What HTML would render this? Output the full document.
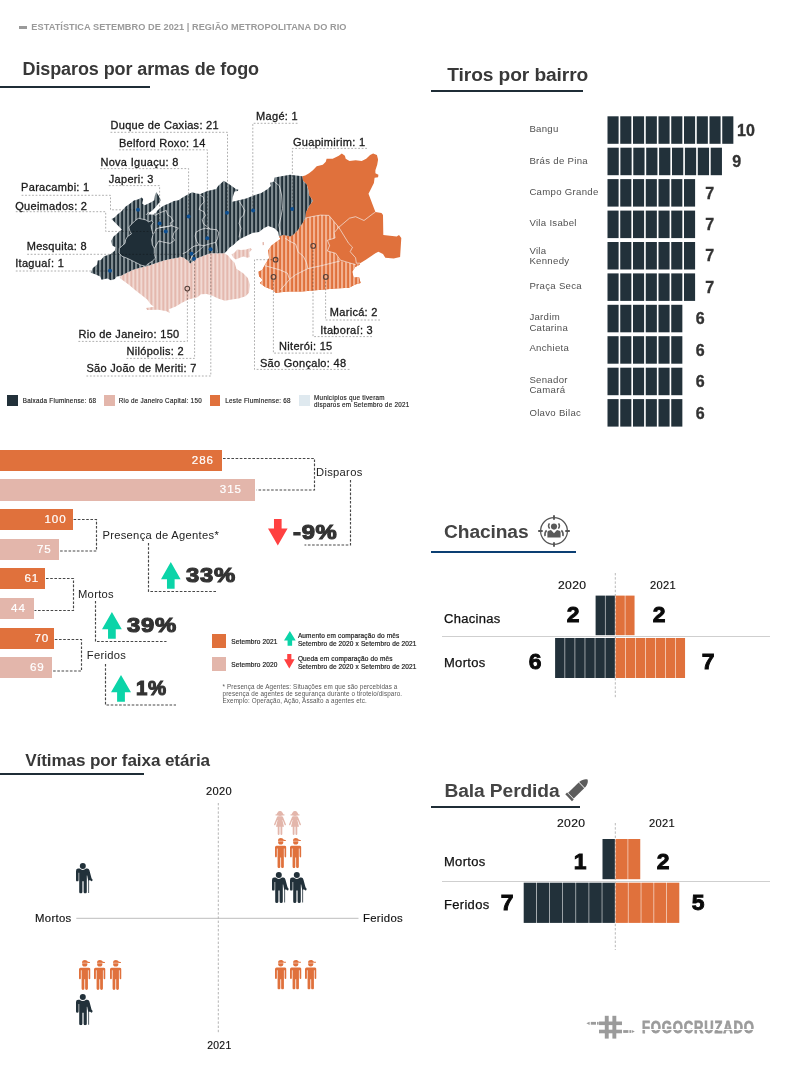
<!DOCTYPE html>
<html lang="pt-BR">
<head>
<meta charset="utf-8">
<title>Estatística Setembro de 2021 | Região Metropolitana do Rio</title>
<style>
*{box-sizing:border-box;margin:0;padding:0}
html,body{width:787px;height:1080px;background:#fff;overflow:hidden}
body{font-family:"Liberation Sans",sans-serif;color:#222;position:relative}
.abs{position:absolute;white-space:nowrap;line-height:1}
.title{position:absolute;font-weight:bold;color:#383838;white-space:nowrap;line-height:1;letter-spacing:-.1px}
.rule{position:absolute;height:2px;background:#1f2d36}
.hdr{position:absolute;left:31.3px;top:21px;font-size:9.2px;font-weight:bold;color:#9a9a9a;white-space:nowrap;line-height:12px;letter-spacing:.05px}
.hdr i{position:absolute;left:-12px;top:5px;width:8px;height:3px;background:#9a9a9a}
.lbl{position:absolute;font-size:11px;color:#1a1a1a;white-space:nowrap;line-height:1;letter-spacing:.3px;-webkit-text-stroke:.3px #1a1a1a}
.leg{position:absolute;font-size:6.3px;color:#222;white-space:nowrap;line-height:7.2px;letter-spacing:.27px;-webkit-text-stroke:.15px #222}
.sq{position:absolute;width:10.5px;height:10.5px}
.bl{position:absolute;font-size:9.6px;color:#505050;line-height:10.8px;letter-spacing:.3px;left:529.4px}
.bn{position:absolute;font-size:16px;font-weight:bold;color:#333;-webkit-text-stroke:.35px #333;line-height:1;width:40px;text-align:center;white-space:nowrap}
.brow{position:absolute;left:607.5px;height:27.5px;display:flex}
.brow b{display:block;width:11.1px;height:100%;background:#22313a;margin-right:1.65px}
.hb{position:absolute;left:0;height:21px;color:#fff;font-size:11.6px;text-align:right;padding-right:7px;line-height:20.8px;letter-spacing:.9px;-webkit-text-stroke:.2px #fff}
.o{background:#e0713c}.p{background:#e3b6ab}.d{background:#22313a}
.cat{position:absolute;font-size:11.2px;color:#222;white-space:nowrap;line-height:1;letter-spacing:.3px}
.pct{position:absolute;font-size:20px;font-weight:bold;color:#333;white-space:nowrap;line-height:1;transform-origin:0 0;transform:scaleX(1.19);-webkit-text-stroke:1.1px #333;letter-spacing:.6px}
.yr{position:absolute;font-size:10.4px;color:#111;white-space:nowrap;line-height:1;letter-spacing:.3px;transform-origin:0 0;-webkit-text-stroke:.15px #111}
.big{position:absolute;font-size:21.8px;font-weight:bold;color:#0a0a0a;white-space:nowrap;line-height:1;-webkit-text-stroke:.9px #0a0a0a;width:30px;text-align:center;transform:scaleX(1.05)}
.rl{position:absolute;font-size:12px;color:#111;white-space:nowrap;line-height:1;letter-spacing:.3px;transform-origin:0 0;transform:scaleX(1.08);-webkit-text-stroke:.25px #111}
.blk{position:absolute;display:flex}
.blk b{display:block;height:100%}
.sep{position:absolute;height:1px;background:#cfcfcf}
.leg2{position:absolute;font-size:6.5px;color:#222;white-space:nowrap;line-height:7.6px;letter-spacing:.14px;-webkit-text-stroke:.2px #222}
.foot{position:absolute;font-size:6.3px;color:#555;white-space:nowrap;line-height:7px;letter-spacing:.13px}
.logo{position:absolute;font-size:16.8px;font-weight:bold;color:#9b9b9b;white-space:nowrap;line-height:1;transform-origin:0 0;transform:scaleX(.775);letter-spacing:1.1px;-webkit-text-stroke:.8px #9b9b9b}
svg{position:absolute;left:0;top:0;overflow:visible}
</style>
</head>
<body>
<div class="hdr"><i></i>ESTATÍSTICA SETEMBRO DE 2021 | REGIÃO METROPOLITANA DO RIO</div>
<div class="title" style="left:22.5px;top:60.2px;font-size:18px">Disparos por armas de fogo</div>
<div class="rule" style="left:0;top:86px;width:150px"></div>
<div class="title" style="left:447.3px;top:64.6px;font-size:19.2px">Tiros por bairro</div>
<div class="rule" style="left:431px;top:89.5px;width:152px"></div>
<div class="bl" style="top:124.2px">Bangu</div>
<div class="bn" style="left:725.9px;top:122.7px">10</div>
<div class="bl" style="top:155.7px">Brás de Pina</div>
<div class="bn" style="left:716.6px;top:154.1px">9</div>
<div class="bl" style="top:186.6px">Campo Grande</div>
<div class="bn" style="left:689.6px;top:185.5px">7</div>
<div class="bl" style="top:218.2px">Vila Isabel</div>
<div class="bn" style="left:689.6px;top:217.0px">7</div>
<div class="bl" style="top:245.5px">Vila<br>Kennedy</div>
<div class="bn" style="left:689.6px;top:248.4px">7</div>
<div class="bl" style="top:281.0px">Praça Seca</div>
<div class="bn" style="left:689.6px;top:279.8px">7</div>
<div class="bl" style="top:312.3px">Jardim<br>Catarina</div>
<div class="bn" style="left:680.1px;top:311.2px">6</div>
<div class="bl" style="top:342.9px">Anchieta</div>
<div class="bn" style="left:680.1px;top:342.6px">6</div>
<div class="bl" style="top:374.7px">Senador<br>Camará</div>
<div class="bn" style="left:680.1px;top:374.1px">6</div>
<div class="bl" style="top:408.0px">Olavo Bilac</div>
<div class="bn" style="left:680.1px;top:405.5px">6</div>
<svg width="787" height="1080" viewBox="0 0 787 1080" fill="#22313a"><rect x="607.50" y="116.3" width="11.1" height="27.5"/><rect x="620.25" y="116.3" width="11.1" height="27.5"/><rect x="633.00" y="116.3" width="11.1" height="27.5"/><rect x="645.75" y="116.3" width="11.1" height="27.5"/><rect x="658.50" y="116.3" width="11.1" height="27.5"/><rect x="671.25" y="116.3" width="11.1" height="27.5"/><rect x="684.00" y="116.3" width="11.1" height="27.5"/><rect x="696.75" y="116.3" width="11.1" height="27.5"/><rect x="709.50" y="116.3" width="11.1" height="27.5"/><rect x="722.25" y="116.3" width="11.1" height="27.5"/><rect x="607.50" y="147.7" width="11.25" height="27.5"/><rect x="620.40" y="147.7" width="11.25" height="27.5"/><rect x="633.30" y="147.7" width="11.25" height="27.5"/><rect x="646.20" y="147.7" width="11.25" height="27.5"/><rect x="659.10" y="147.7" width="11.25" height="27.5"/><rect x="672.00" y="147.7" width="11.25" height="27.5"/><rect x="684.90" y="147.7" width="11.25" height="27.5"/><rect x="697.80" y="147.7" width="11.25" height="27.5"/><rect x="710.70" y="147.7" width="11.25" height="27.5"/><rect x="607.50" y="179.1" width="11.1" height="27.5"/><rect x="620.25" y="179.1" width="11.1" height="27.5"/><rect x="633.00" y="179.1" width="11.1" height="27.5"/><rect x="645.75" y="179.1" width="11.1" height="27.5"/><rect x="658.50" y="179.1" width="11.1" height="27.5"/><rect x="671.25" y="179.1" width="11.1" height="27.5"/><rect x="684.00" y="179.1" width="11.1" height="27.5"/><rect x="607.50" y="210.6" width="11.1" height="27.5"/><rect x="620.25" y="210.6" width="11.1" height="27.5"/><rect x="633.00" y="210.6" width="11.1" height="27.5"/><rect x="645.75" y="210.6" width="11.1" height="27.5"/><rect x="658.50" y="210.6" width="11.1" height="27.5"/><rect x="671.25" y="210.6" width="11.1" height="27.5"/><rect x="684.00" y="210.6" width="11.1" height="27.5"/><rect x="607.50" y="242.0" width="11.1" height="27.5"/><rect x="620.25" y="242.0" width="11.1" height="27.5"/><rect x="633.00" y="242.0" width="11.1" height="27.5"/><rect x="645.75" y="242.0" width="11.1" height="27.5"/><rect x="658.50" y="242.0" width="11.1" height="27.5"/><rect x="671.25" y="242.0" width="11.1" height="27.5"/><rect x="684.00" y="242.0" width="11.1" height="27.5"/><rect x="607.50" y="273.4" width="11.1" height="27.5"/><rect x="620.25" y="273.4" width="11.1" height="27.5"/><rect x="633.00" y="273.4" width="11.1" height="27.5"/><rect x="645.75" y="273.4" width="11.1" height="27.5"/><rect x="658.50" y="273.4" width="11.1" height="27.5"/><rect x="671.25" y="273.4" width="11.1" height="27.5"/><rect x="684.00" y="273.4" width="11.1" height="27.5"/><rect x="607.50" y="304.8" width="11.1" height="27.5"/><rect x="620.25" y="304.8" width="11.1" height="27.5"/><rect x="633.00" y="304.8" width="11.1" height="27.5"/><rect x="645.75" y="304.8" width="11.1" height="27.5"/><rect x="658.50" y="304.8" width="11.1" height="27.5"/><rect x="671.25" y="304.8" width="11.1" height="27.5"/><rect x="607.50" y="336.2" width="11.1" height="27.5"/><rect x="620.25" y="336.2" width="11.1" height="27.5"/><rect x="633.00" y="336.2" width="11.1" height="27.5"/><rect x="645.75" y="336.2" width="11.1" height="27.5"/><rect x="658.50" y="336.2" width="11.1" height="27.5"/><rect x="671.25" y="336.2" width="11.1" height="27.5"/><rect x="607.50" y="367.7" width="11.1" height="27.5"/><rect x="620.25" y="367.7" width="11.1" height="27.5"/><rect x="633.00" y="367.7" width="11.1" height="27.5"/><rect x="645.75" y="367.7" width="11.1" height="27.5"/><rect x="658.50" y="367.7" width="11.1" height="27.5"/><rect x="671.25" y="367.7" width="11.1" height="27.5"/><rect x="607.50" y="399.1" width="11.1" height="27.5"/><rect x="620.25" y="399.1" width="11.1" height="27.5"/><rect x="633.00" y="399.1" width="11.1" height="27.5"/><rect x="645.75" y="399.1" width="11.1" height="27.5"/><rect x="658.50" y="399.1" width="11.1" height="27.5"/><rect x="671.25" y="399.1" width="11.1" height="27.5"/></svg>
<svg width="787" height="1080" viewBox="0 0 787 1080">
<defs>
<pattern id="sd" width="4" height="8" patternUnits="userSpaceOnUse" x="-1"><rect width="4" height="8" fill="#1f2e37"/><rect width="2.15" height="8" fill="#7f8b90"/></pattern>
<pattern id="so" width="4" height="8" patternUnits="userSpaceOnUse" x="1"><rect width="4" height="8" fill="#e0713c"/><rect width="2.1" height="8" fill="#f2b08f"/></pattern>
<pattern id="sp" width="4" height="8" patternUnits="userSpaceOnUse" x="2.4"><rect width="4" height="8" fill="#f1d9d3"/><rect width="1.8" height="8" fill="#e2b4a9"/></pattern>
</defs>
<polygon points="120.6,275.9 126.9,272.7 133.9,269.5 140.9,267.6 148.5,265.7 156.2,263.1 163.8,260.6 171.4,258.7 179.0,257.4 180.0,256.4 183.8,257.7 188.3,260.9 190.2,263.4 192.7,261.5 195.2,258.9 200.3,257.0 205.4,255.1 210.5,253.2 218.1,253.2 224.5,253.2 228.3,255.8 230.8,258.9 234.6,262.8 236.4,268.7 243.2,273.3 247.8,277.9 250.1,284.7 249.0,292.7 245.5,296.2 238.7,298.5 231.8,299.6 224.9,300.7 218.1,298.5 212.4,295.7 206.7,293.9 200.9,294.3 197.5,297.3 188.4,299.6 181.5,303.0 175.8,306.5 168.9,309.2 170.1,313.3 166.6,311.3 158.6,309.7 147.2,310.1 146.0,308.1 154.0,306.7 150.6,304.2 147.2,299.6 141.5,295.0 135.7,290.5 128.9,284.7 119.7,277.9 120.9,275.1" fill="url(#sp)"/>
<polygon points="231.5,254.5 234.6,252.6 237.2,249.4 241.0,250.1 246.1,249.4 250.5,248.1 251.8,249.4 249.3,252.6 249.9,257.0 247.3,257.7 243.5,256.4 239.7,257.7 235.9,259.6 233.4,257.7" fill="url(#sp)"/>
<polygon points="262.3,242.2 263.9,241.9 264.1,245.0 262.6,245.2" fill="url(#sp)"/>
<polygon points="302.2,176.3 305.2,175.5 309.1,173.2 312.9,170.2 316.7,166.3 322.8,164.8 325.8,161.8 326.6,158.7 332.7,158.7 338.8,155.7 341.8,153.4 344.9,155.7 345.7,158.7 349.5,161.0 355.6,160.2 361.7,161.0 366.2,158.7 370.1,154.9 373.1,153.4 376.9,154.9 378.1,159.5 377.2,164.8 375.4,170.2 375.4,173.2 378.4,174.7 378.1,177.3 374.6,177.8 373.9,183.1 370.8,189.2 368.5,193.8 375.4,212.1 381.5,212.9 383.0,215.1 383.3,235.0 396.7,236.5 399.0,235.0 401.3,238.0 400.1,257.1 393.7,258.6 385.3,257.8 383.0,254.0 378.4,251.7 375.4,253.3 366.2,259.4 360.1,263.2 359.8,264.8 355.2,267.1 352.2,271.7 353.7,277.8 359.0,277.0 360.6,283.1 355.2,284.6 349.1,287.7 335.4,288.4 318.6,290.0 301.8,291.5 288.1,291.5 280.5,292.3 275.9,293.0 272.9,290.0 265.2,286.9 259.9,283.1 263.0,280.1 259.1,276.2 258.4,271.7 262.2,270.1 264.5,265.6 269.1,257.9 268.3,250.3 271.3,245.7 275.2,242.7 280.5,238.9 279.0,236.6 282.8,235.1 288.1,235.8 293.0,235.0 297.6,230.4 303.7,221.2 305.2,218.2 306.0,212.1 309.1,206.0 312.9,200.7 309.1,195.3 308.3,190.0 306.8,184.6 303.0,180.8" fill="#e0713c"/>
<polygon points="305.2,218.2 311.3,216.7 320.5,215.1 328.9,215.4 338.8,227.3 334.2,232.7 335.0,238.0 327.4,240.3 329.6,245.6 327.4,251.0 335.7,253.3 340.3,260.1 335.4,253.4 340.0,261.0 347.6,262.5 355.2,264.0 359.8,264.8 355.2,267.1 352.2,271.7 353.7,277.8 359.0,277.0 360.6,283.1 355.2,284.6 349.1,287.7 335.4,288.4 318.6,290.0 301.8,291.5 288.1,291.5 280.5,292.3 275.9,293.0 272.9,290.0 265.2,286.9 259.9,283.1 263.0,280.1 259.1,276.2 258.4,271.7 262.2,270.1 264.5,265.6 269.1,257.9 268.3,250.3 271.3,245.7 275.2,242.7 280.5,238.9 279.0,236.6 282.8,235.1 288.1,235.8 293.0,235.0 297.6,230.4 303.7,221.2" fill="url(#so)"/>
<polygon points="90.7,272.7 92.6,268.2 97.1,264.4 97.7,260.6 100.9,260.0 104.1,256.2 110.4,254.3 114.9,250.4 115.5,247.3 112.3,245.4 111.0,240.9 113.6,236.5 117.4,233.3 121.8,229.5 115.5,223.1 111.4,219.1 114.5,217.4 117.4,214.5 121.8,211.0 125.7,206.6 129.5,204.1 133.9,200.5 138.4,199.2 141.5,197.5 143.2,199.0 142.2,203.4 144.7,205.3 151.1,202.2 154.3,200.2 154.9,195.8 156.2,192.0 158.7,195.8 160.9,200.2 158.1,204.1 155.5,207.2 152.3,210.4 149.8,212.3 148.2,214.5 152.3,214.5 155.5,213.2 157.4,210.4 161.2,207.2 164.4,205.3 168.9,203.4 173.9,200.9 178.4,200.2 182.2,197.7 185.1,196.0 192.1,192.2 196.5,193.5 200.3,194.1 207.3,191.0 216.2,189.1 218.1,185.9 223.8,180.8 228.9,184.0 235.9,189.1 238.4,189.7 237.8,191.0 234.6,191.6 232.7,197.3 232.1,201.8 237.8,200.5 246.1,198.6 253.7,195.4 261.3,192.9 267.7,189.1 270.9,185.9 270.2,182.7 274.0,181.4 274.7,177.6 280.0,176.4 290.0,174.7 296.1,175.5 302.2,176.3 303.0,180.8 306.8,184.6 308.3,190.0 309.1,195.3 312.9,200.7 309.1,206.0 306.0,212.1 305.2,218.2 303.7,221.2 297.6,230.4 293.0,235.0 290.0,236.5 288.1,235.8 282.8,235.1 279.0,236.6 278.2,232.0 274.4,228.2 268.3,225.9 263.7,228.2 259.1,232.0 253.0,232.8 246.1,236.1 241.0,238.6 237.2,241.2 233.4,245.0 229.6,247.5 227.0,250.7 224.5,253.2 218.1,253.2 210.5,253.2 205.4,255.1 200.3,257.0 195.2,258.9 192.7,261.5 190.2,263.4 188.3,260.9 183.8,257.7 180.0,256.4 179.0,257.4 171.4,258.7 163.8,260.6 156.2,263.1 148.5,265.7 140.9,267.6 133.9,269.5 126.9,272.7 120.6,275.9 116.8,276.5 114.9,279.0 111.0,280.3 107.2,278.4 101.5,279.7 100.2,276.5 94.5,273.9" fill="url(#sd)"/>
<polygon points="138.4,218.3 142.2,219.1 146.0,219.9 148.5,221.8 151.7,220.6 153.0,222.5 151.1,225.7 151.7,229.5 153.0,234.6 151.7,239.6 152.3,244.7 154.3,248.5 154.3,253.6 155.5,258.1 152.3,261.2 147.3,264.4 145.4,266.3 140.9,265.1 134.6,261.9 128.2,258.7 121.8,256.2 119.1,253.0 119.3,248.5 121.8,246.0 125.0,243.4 125.7,239.6 127.6,236.5 131.4,233.9 129.5,230.1 128.8,226.9 132.0,223.8 135.2,220.6" fill="#1f2e37" stroke="#e8ecee" stroke-width=".7"/>
<g fill="none" stroke="#f4f4f4" stroke-width=".65" stroke-linejoin="round"><path d="M146.0 214.9 L148.5 212.3 L152.3 214.0 L155.5 215.2 L159.3 213.0 L166.3 210.4 L167.6 214.9 L170.8 216.8 L173.3 221.2 L170.1 223.1 L171.4 225.7 L166.3 226.9 L160.0 227.6 L156.2 228.8 L153.6 233.9"/><path d="M160.0 227.6 L171.4 225.7 L178.4 228.2 L173.9 232.6 L172.7 237.1 L174.6 240.3 L170.1 243.4 L163.8 242.2 L158.7 240.9 L154.3 248.5"/><path d="M199.7 194.8 L203.5 197.3 L204.1 201.8 L200.3 206.2 L199.1 209.4 L204.1 211.9 L205.4 215.7 L202.2 219.6 L203.5 224.0 L208.0 227.2 L210.5 229.1"/><path d="M210.5 229.1 L216.8 229.7 L218.8 232.9 L217.5 238.6 L215.6 242.4 L210.5 243.7 L204.1 245.6 L199.1 245.0 L196.5 241.2 L195.2 236.1 L195.9 232.3 L200.3 229.7 L205.4 228.2 L210.5 229.1"/><path d="M215.6 242.4 L216.8 246.2 L217.5 252.6"/><path d="M199.1 245.0 L194.0 246.2 L190.2 248.8 L186.4 252.0 L182.5 253.9"/><path d="M204.1 245.6 L200.3 249.4 L196.5 252.6 L192.7 255.1 L189.5 261.5"/><path d="M239.1 201.1 L242.3 206.2 L244.8 210.7 L243.5 215.1 L240.4 218.3 L239.1 223.4 L241.0 228.4 L239.7 233.5 L239.1 237.3"/><path d="M274.3 181.6 L279.3 185.7 L281.6 194.9 L282.5 208.6 L280.7 217.8 L278.9 225.1 L280.7 234.9"/><path d="M264.5 265.6 L272.9 267.9 L280.5 270.1 L287.4 273.2 L289.6 279.3"/><path d="M280.5 290.0 L289.6 279.3 L295.7 274.7 L307.9 268.6 L321.7 265.6 L330.8 263.3 L340.0 261.0"/><path d="M285.1 238.1 L289.6 241.2 L295.7 244.2 L298.0 251.8 L303.4 256.4 L306.4 262.5 L307.9 268.6"/><path d="M305.2 218.2 L311.3 216.7 L320.5 215.1 L328.9 215.4 L338.8 227.3 L334.2 232.7 L335.0 238.0 L327.4 240.3 L329.6 245.6 L327.4 251.0 L335.7 253.3 L340.3 260.1 L347.9 262.4 L355.6 264.7"/><path d="M338.8 227.3 L349.5 218.2 L355.6 216.7 L364.0 220.5 L373.1 213.6 L375.4 212.1"/><path d="M338.8 227.3 L348.7 243.4 L352.5 247.2 L350.2 251.7 L355.6 257.8 L356.3 263.2 L360.1 263.2"/></g>
</svg>
<div class="lbl" style="left:110.5px;top:120.3px">Duque de Caxias: 21</div>
<div class="lbl" style="left:118.9px;top:137.6px">Belford Roxo: 14</div>
<div class="lbl" style="left:100.4px;top:156.7px">Nova Iguaçu: 8</div>
<div class="lbl" style="left:108.8px;top:173.7px">Japeri: 3</div>
<div class="lbl" style="left:21.1px;top:181.8px">Paracambi: 1</div>
<div class="lbl" style="left:15.2px;top:200.9px">Queimados: 2</div>
<div class="lbl" style="left:26.7px;top:241.0px">Mesquita: 8</div>
<div class="lbl" style="left:15.2px;top:258.1px">Itaguaí: 1</div>
<div class="lbl" style="left:256.1px;top:111.4px">Magé: 1</div>
<div class="lbl" style="left:293px;top:136.5px">Guapimirim: 1</div>
<div class="lbl" style="left:329.8px;top:307.4px">Maricá: 2</div>
<div class="lbl" style="left:320.2px;top:324.5px">Itaboraí: 3</div>
<div class="lbl" style="left:279.1px;top:340.5px">Niterói: 15</div>
<div class="lbl" style="left:259.9px;top:357.5px">São Gonçalo: 48</div>
<div class="lbl" style="left:78.4px;top:328.7px">Rio de Janeiro: 150</div>
<div class="lbl" style="left:126.5px;top:345.8px">Nilópolis: 2</div>
<div class="lbl" style="left:86.4px;top:362.9px">São João de Meriti: 7</div>
<svg style="mix-blend-mode:multiply" width="787" height="1080" viewBox="0 0 787 1080" fill="none" stroke="#9a9a9a" stroke-width=".8" stroke-dasharray="1.8 1.7"><path d="M110.5 132.3 L227.5 132.3 L227.5 212.7"/><path d="M118.9 149.8 L207.4 149.8 L207.4 238.2"/><path d="M100.4 168.6 L188.6 168.6 L188.6 216.5"/><path d="M108.8 185.6 L159.6 185.6 L159.6 223.4"/><path d="M21.6 195.3 L110.5 195.3 L110.5 209.8 L138 209.8"/><path d="M15.8 211.7 L105.7 211.7 L105.7 231.4 L165.7 231.4"/><path d="M27.2 254.3 L191.5 254.3"/><path d="M15.8 271 L110 271"/><path d="M297.5 123.3 L252.8 123.3 L252.8 210.4"/><path d="M367 148.4 L292.4 148.4 L292.4 209.1"/><path d="M380 320 L325.6 320 L325.6 279.3"/><path d="M372 336.6 L313 336.6 L313 248.4"/><path d="M332 353.1 L273.4 353.1 L273.4 279.3"/><path d="M349.5 369.4 L254.5 369.4 L254.5 259.7 L273 259.7"/><path d="M78.4 341.4 L187.4 341.4 L187.4 291"/><path d="M126.5 358.4 L194.6 358.4 L194.6 258.8"/><path d="M86.4 376 L210.8 376 L210.8 249.3"/></svg>
<svg width="787" height="1080" viewBox="0 0 787 1080"><circle cx="188.6" cy="216.5" r="2" fill="#0d4f91"/><circle cx="227" cy="212.7" r="2" fill="#0d4f91"/><circle cx="253.1" cy="210.5" r="2" fill="#0d4f91"/><circle cx="207.3" cy="238.2" r="2" fill="#0d4f91"/><circle cx="210.6" cy="249.3" r="2" fill="#0d4f91"/><circle cx="191.5" cy="253.7" r="2" fill="#0d4f91"/><circle cx="194" cy="258.8" r="2" fill="#0d4f91"/><circle cx="165.8" cy="231.5" r="2" fill="#0d4f91"/><circle cx="159.6" cy="223.5" r="2" fill="#0d4f91"/><circle cx="138" cy="209.8" r="2" fill="#0d4f91"/><circle cx="110" cy="270.8" r="2" fill="#0d4f91"/><circle cx="292.2" cy="209.1" r="2" fill="#0d4f91"/><circle cx="313.2" cy="245.9" r="2.35" fill="none" stroke="#54403a" stroke-width="1.05"/><circle cx="275.6" cy="259.7" r="2.35" fill="none" stroke="#54403a" stroke-width="1.05"/><circle cx="273.5" cy="276.9" r="2.35" fill="none" stroke="#54403a" stroke-width="1.05"/><circle cx="325.8" cy="276.9" r="2.35" fill="none" stroke="#54403a" stroke-width="1.05"/><circle cx="187.3" cy="288.6" r="2.35" fill="none" stroke="#54403a" stroke-width="1.05"/></svg>
<div class="sq" style="left:7.3px;top:395.2px;background:#22313a"></div>
<div class="leg" style="left:22.7px;top:397.1px">Baixada Fluminense: 68</div>
<div class="sq" style="left:104.1px;top:395.2px;background:#e3b6ab"></div>
<div class="leg" style="left:118.7px;top:397.1px">Rio de Janeiro Capital: 150</div>
<div class="sq" style="left:209.8px;top:395.4px;background:#e0713c"></div>
<div class="leg" style="left:225.2px;top:397.1px">Leste Fluminense: 68</div>
<div class="sq" style="left:299.3px;top:395.4px;background:#dfe9ef"></div>
<div class="leg" style="left:314.1px;top:393.6px;line-height:7.1px">Municípios que tiveram<br>disparos em Setembro de 2021</div>
<div class="hb o" style="top:449.7px;width:222.4px;padding-right:8.5px">286</div>
<div class="hb p" style="top:479.3px;height:21.5px;width:255.2px;padding-right:13.3px">315</div>
<div class="hb o" style="top:508.9px;width:73.2px;padding-right:6.7px">100</div>
<div class="hb p" style="top:538.5px;width:59.2px;padding-right:7.5px">75</div>
<div class="hb o" style="top:568.1px;width:45.3px;padding-right:6.2px">61</div>
<div class="hb p" style="top:597.8px;width:33.8px;padding-right:8.0px">44</div>
<div class="hb o" style="top:627.5px;width:54.1px;padding-right:4.9px">70</div>
<div class="hb p" style="top:657.1px;width:51.8px;padding-right:7.2px">69</div>
<svg width="787" height="1080" viewBox="0 0 787 1080" fill="none" stroke="#484848" stroke-width="1.15" stroke-dasharray="2.6 1.6">
<path d="M223 458.5 L314.5 458.5 L314.5 490 L256.5 490"/>
<path d="M350.5 480 L350.5 545 L304.5 545"/>
<path d="M73.6 519.5 L96.5 519.5 L96.5 551 L58.5 551"/>
<path d="M148.5 543 L148.5 591.5 L216 591.5"/>
<path d="M46 578.5 L73.5 578.5 L73.5 610.5 L34.5 610.5"/>
<path d="M95.5 601 L95.5 641.5 L166.5 641.5"/>
<path d="M54.8 639.5 L81.5 639.5 L81.5 671 L52.5 671"/>
<path d="M105.5 664 L105.5 705 L176 705"/>
</svg>
<div class="cat" style="left:316px;top:466.5px">Disparos</div>
<div class="cat" style="left:102.4px;top:529.5px">Presença de Agentes*</div>
<div class="cat" style="left:78px;top:588.5px">Mortos</div>
<div class="cat" style="left:86.8px;top:650px">Feridos</div>
<svg style="left:267.7px;top:519.3px" width="19.6" height="26.4" viewBox="0 0 19.6 26.4"><polygon points="9.80,26.40 19.60,9.50 13.62,9.50 13.62,0.00 5.98,0.00 5.98,9.50 0.00,9.50" fill="#ff4141"/></svg>
<svg style="left:160.6px;top:561.8px" width="19.6" height="26.8" viewBox="0 0 19.6 26.8"><polygon points="9.80,0.00 19.60,17.15 13.62,17.15 13.62,26.80 5.98,26.80 5.98,17.15 0.00,17.15" fill="#0bd4a8"/></svg>
<svg style="left:101.7px;top:611.6px" width="19.8" height="26.8" viewBox="0 0 19.8 26.8"><polygon points="9.90,0.00 19.80,17.15 13.76,17.15 13.76,26.80 6.04,26.80 6.04,17.15 0.00,17.15" fill="#0bd4a8"/></svg>
<svg style="left:111.3px;top:674.5px" width="20" height="26.8" viewBox="0 0 20 26.8"><polygon points="10.00,0.00 20.00,17.15 13.90,17.15 13.90,26.80 6.10,26.80 6.10,17.15 0.00,17.15" fill="#0bd4a8"/></svg>
<div class="pct" style="left:292.5px;top:521.6px">-9%</div>
<div class="pct" style="left:185.5px;top:565px">33%</div>
<div class="pct" style="left:127.2px;top:615.4px">39%</div>
<div class="pct" style="left:135.6px;top:678px;transform:scaleX(1.02)">1%</div>
<div class="sq o" style="left:211.7px;top:634px;width:14px;height:14px"></div>
<div class="sq p" style="left:211.7px;top:656.7px;width:14px;height:14px"></div>
<div class="leg2" style="left:231.3px;top:637.8px">Setembro 2021</div>
<div class="leg2" style="left:231.3px;top:660.6px">Setembro 2020</div>
<svg style="left:283.9px;top:631px" width="11.7" height="14.7" viewBox="0 0 11.7 14.7"><polygon points="5.85,0.00 11.70,9.41 8.13,9.41 8.13,14.70 3.57,14.70 3.57,9.41 0.00,9.41" fill="#0bd4a8"/></svg>
<svg style="left:284.4px;top:654.4px" width="10.6" height="14.6" viewBox="0 0 10.6 14.6"><polygon points="5.30,14.60 10.60,5.26 7.37,5.26 7.37,0.00 3.23,0.00 3.23,5.26 0.00,5.26" fill="#ff4141"/></svg>
<div class="leg2" style="left:297.9px;top:632px">Aumento em comparação do mês<br>Setembro de 2020 x Setembro de 2021</div>
<div class="leg2" style="left:297.9px;top:655.4px">Queda em comparação do mês<br>Setembro de 2020 x Setembro de 2021</div>
<div class="foot" style="left:222.5px;top:683.3px">* Presença de Agentes: Situações em que são percebidas a<br>presença de agentes de segurança durante o tiroteio/disparo.<br>Exemplo: Operação, Ação, Assalto a agentes etc.</div>
<div class="title" style="left:444px;top:521.6px;font-size:19.2px;color:#444">Chacinas</div>
<div class="rule" style="left:431px;top:551.2px;width:145px;background:#0c3f73"></div>
<svg style="left:538px;top:515px" width="32" height="32" viewBox="-16 -16 32 32">
<g fill="none" stroke="#555" stroke-width="1.25"><circle cx="0" cy="0" r="13.4"/></g>
<g stroke="#555" stroke-width="1.9"><path d="M0 -15.8V-11.3M0 15.8V11.3M-15.8 0H-11.3M15.8 0H11.3"/></g>
<g fill="#5a5a5a"><circle cx="0" cy="-4.4" r="3.05"/><path d="M-6.6 6.4V1.2Q-6.6 -0.4 -4.6 -0.6L-3 -0.9L0 2.2L3 -0.9L4.6 -0.6Q6.6 -0.4 6.6 1.2V6.4Z"/></g>
<g fill="none" stroke="#5a5a5a" stroke-width="1.5"><path d="M-4.6 -7.6Q-6.4 -5 -4.4 -2.4M4.6 -7.6Q6.4 -5 4.4 -2.4M-7.4 -0.6Q-9.6 1.6 -9 5.2M7.4 -0.6Q9.6 1.6 9 5.2"/></g>
</svg>
<svg width="787" height="1080" viewBox="0 0 787 1080" fill="none" stroke="#b9b9b9" stroke-width="1" stroke-dasharray="2.4 1.8"><path d="M615.3 573V699M615.3 823V950"/></svg>
<div class="yr" style="left:557.6px;top:581px;transform:scaleX(1.17)">2020</div>
<div class="yr" style="left:649.6px;top:581px;transform:scaleX(1.07)">2021</div>
<svg width="787" height="1080" viewBox="0 0 787 1080" shape-rendering="geometricPrecision"><rect x="595.60" y="595.6" width="9.35" height="39.6" fill="#22313a"/><rect x="605.50" y="595.6" width="9.35" height="39.6" fill="#22313a"/></svg>
<svg width="787" height="1080" viewBox="0 0 787 1080" shape-rendering="geometricPrecision"><rect x="615.60" y="595.6" width="9.20" height="39.6" fill="#e0713c"/><rect x="625.35" y="595.6" width="9.20" height="39.6" fill="#e0713c"/></svg>
<div class="sep" style="left:442px;top:636.3px;width:328px"></div>
<svg width="787" height="1080" viewBox="0 0 787 1080" shape-rendering="geometricPrecision"><rect x="555.10" y="638.0" width="9.50" height="40.0" fill="#22313a"/><rect x="565.15" y="638.0" width="9.50" height="40.0" fill="#22313a"/><rect x="575.20" y="638.0" width="9.50" height="40.0" fill="#22313a"/><rect x="585.25" y="638.0" width="9.50" height="40.0" fill="#22313a"/><rect x="595.30" y="638.0" width="9.50" height="40.0" fill="#22313a"/><rect x="605.35" y="638.0" width="9.50" height="40.0" fill="#22313a"/></svg>
<svg width="787" height="1080" viewBox="0 0 787 1080" shape-rendering="geometricPrecision"><rect x="615.60" y="638.0" width="9.45" height="40.0" fill="#e0713c"/><rect x="625.60" y="638.0" width="9.45" height="40.0" fill="#e0713c"/><rect x="635.60" y="638.0" width="9.45" height="40.0" fill="#e0713c"/><rect x="645.60" y="638.0" width="9.45" height="40.0" fill="#e0713c"/><rect x="655.60" y="638.0" width="9.45" height="40.0" fill="#e0713c"/><rect x="665.60" y="638.0" width="9.45" height="40.0" fill="#e0713c"/><rect x="675.60" y="638.0" width="9.45" height="40.0" fill="#e0713c"/></svg>
<div class="rl" style="left:443.8px;top:613.3px">Chacinas</div>
<div class="rl" style="left:443.8px;top:656.6px">Mortos</div>
<div class="big" style="left:558.3px;top:603.8px">2</div>
<div class="big" style="left:644.3px;top:603.8px">2</div>
<div class="big" style="left:520.2px;top:650.6px">6</div>
<div class="big" style="left:692.6px;top:650.6px">7</div>
<div class="title" style="left:444.5px;top:781.3px;font-size:19.2px;color:#444">Bala Perdida</div>
<div class="rule" style="left:431px;top:805.5px;width:149px"></div>
<svg style="left:566.2px;top:777.4px" width="24" height="24" viewBox="0 0 24 24"><g transform="translate(12.2 11.5) rotate(46)" fill="#5c5c5c"><path d="M-4 -5.2C-3.9 -9.4 -1.8 -12.2 0 -13C1.8 -12.2 3.9 -9.4 4 -5.2Z"/><rect x="-4" y="-4.5" width="8" height="14.6"/><path d="M-4.8 10.8H4.8V13.3H-4.8Z"/></g></svg>
<div class="yr" style="left:557px;top:819px;transform:scaleX(1.17)">2020</div>
<div class="yr" style="left:648.6px;top:819px;transform:scaleX(1.07)">2021</div>
<svg width="787" height="1080" viewBox="0 0 787 1080" shape-rendering="geometricPrecision"><rect x="602.50" y="839.0" width="12.35" height="40.2" fill="#22313a"/></svg>
<svg width="787" height="1080" viewBox="0 0 787 1080" shape-rendering="geometricPrecision"><rect x="615.60" y="839.0" width="12.05" height="40.2" fill="#e0713c"/><rect x="628.20" y="839.0" width="12.05" height="40.2" fill="#e0713c"/></svg>
<div class="sep" style="left:442px;top:880.7px;width:328px"></div>
<svg width="787" height="1080" viewBox="0 0 787 1080" shape-rendering="geometricPrecision"><rect x="523.70" y="882.7" width="12.55" height="40.2" fill="#22313a"/><rect x="536.80" y="882.7" width="12.55" height="40.2" fill="#22313a"/><rect x="549.90" y="882.7" width="12.55" height="40.2" fill="#22313a"/><rect x="563.00" y="882.7" width="12.55" height="40.2" fill="#22313a"/><rect x="576.10" y="882.7" width="12.55" height="40.2" fill="#22313a"/><rect x="589.20" y="882.7" width="12.55" height="40.2" fill="#22313a"/><rect x="602.30" y="882.7" width="12.55" height="40.2" fill="#22313a"/></svg>
<svg width="787" height="1080" viewBox="0 0 787 1080" shape-rendering="geometricPrecision"><rect x="615.60" y="882.7" width="12.30" height="40.2" fill="#e0713c"/><rect x="628.45" y="882.7" width="12.30" height="40.2" fill="#e0713c"/><rect x="641.30" y="882.7" width="12.30" height="40.2" fill="#e0713c"/><rect x="654.15" y="882.7" width="12.30" height="40.2" fill="#e0713c"/><rect x="667.00" y="882.7" width="12.30" height="40.2" fill="#e0713c"/></svg>
<div class="rl" style="left:444.3px;top:856.2px">Mortos</div>
<div class="rl" style="left:444.3px;top:899px">Feridos</div>
<div class="big" style="left:564.8px;top:851.1px">1</div>
<div class="big" style="left:647.5px;top:851.1px">2</div>
<div class="big" style="left:491.7px;top:892.1px">7</div>
<div class="big" style="left:683.2px;top:892.1px">5</div>
<div class="title" style="left:25.2px;top:752px;font-size:17.1px">Vítimas por faixa etária</div>
<div class="rule" style="left:0;top:773.1px;width:144px"></div>
<div class="yr" style="left:205.6px;top:787.3px;transform:scaleX(1.07)">2020</div>
<div class="yr" style="left:207.2px;top:1040.8px;transform:scaleX(1.0)">2021</div>
<div class="yr" style="left:35.2px;top:913.3px;font-size:10.6px;transform:scaleX(1.07)">Mortos</div>
<div class="yr" style="left:363.4px;top:913.3px;font-size:10.6px;transform:scaleX(1.07)">Feridos</div>
<svg width="787" height="1080" viewBox="0 0 787 1080" fill="none"><path d="M76.3 918.3H358.5" stroke="#bdbdbd" stroke-width="1"/><path d="M218.3 803V1033" stroke="#b5b5b5" stroke-width="1" stroke-dasharray="2.4 1.8"/></svg>
<svg width="0" height="0" style="display:none"><defs>
<symbol id="boy" viewBox="0 0 11.6 30" preserveAspectRatio="none">
<circle cx="5.8" cy="3.9" r="2.65"/>
<path d="M3 2.9C3 0.6 4.6 0 5.9 0C7.3 0 8.4 0.7 8.9 1.8L11 1.9V2.9Z"/><path d="M3 3.15H9" stroke="#fff" stroke-width=".45"/>
<path d="M1.6 7.7H10Q11.6 7.7 11.6 9.3V18.2Q11.6 19.3 10.6 19.3Q9.7 19.3 9.7 18.2V10.4H9V28.6Q9 30 7.6 30Q6.2 30 6.2 28.6V19.4H5.4V28.6Q5.4 30 4 30Q2.6 30 2.6 28.6V10.4H1.9V18.2Q1.9 19.3 1 19.3Q0 19.3 0 18.2V9.3Q0 7.7 1.6 7.7Z"/>
</symbol>
<symbol id="girl" viewBox="0 0 12 24" preserveAspectRatio="none">
<circle cx="6" cy="2.7" r="2.3"/>
<path d="M0.8 3.9Q3 3.4 3.6 1.4Q4.6 0 6 0Q7.4 0 8.4 1.4Q9 3.4 11.2 3.9Q8.6 5 6 4.4Q3.4 5 0.8 3.9Z"/>
<path d="M4.2 5.2H7.8Q8.8 5.2 9.2 6.4L11.9 13.2Q12.1 14 11.5 14.2Q10.9 14.4 10.6 13.7L8.7 9L8.4 9.1L10 15.8H8.3V22.9Q8.3 24 7.4 24Q6.5 24 6.5 22.9V15.8H5.5V22.9Q5.5 24 4.6 24Q3.7 24 3.7 22.9V15.8H2L3.6 9.1L3.3 9L1.4 13.7Q1.1 14.4 0.5 14.2Q-0.1 14 0.1 13.2L2.8 6.4Q3.2 5.2 4.2 5.2Z"/>
</symbol>
<symbol id="old" viewBox="0 0 17 31" preserveAspectRatio="none">
<circle cx="6.8" cy="3" r="3"/>
<path d="M2.2 5.6H3.6Q6.8 8.4 10 5.6H11.2Q13 5.6 13.4 7.4L15.6 15.6Q16.6 16.2 16.6 17.2Q16.4 18.4 15.4 18.6L14.2 17.6H13.1V30.5H12.3V18.4L11.2 12.6H10.8V29.4Q10.8 31 9.2 31Q7.6 31 7.6 29.4V18.6H6.4V29.4Q6.4 31 4.8 31Q3.2 31 3.2 29.4V10H2.6V17.4Q2.6 18.6 1.3 18.6Q0 18.6 0 17.4V8Q0 5.6 2.2 5.6Z"/>
</symbol>
</defs></svg>
<svg style="left:76px;top:863.4px" width="17" height="30.6" fill="#22313a"><use href="#old" width="17" height="30.6"/></svg>
<svg style="left:274.3px;top:811.3px" width="12" height="24" fill="#e3b6ab"><use href="#girl" width="12" height="24"/></svg>
<svg style="left:289.1px;top:811.3px" width="12" height="24" fill="#e3b6ab"><use href="#girl" width="12" height="24"/></svg>
<svg style="left:274.7px;top:838.2px" width="11.4" height="30.2" fill="#e0713c"><use href="#boy" width="11.4" height="30.2"/></svg>
<svg style="left:289.7px;top:838.2px" width="11.4" height="30.2" fill="#e0713c"><use href="#boy" width="11.4" height="30.2"/></svg>
<svg style="left:271.6px;top:871.8px" width="17" height="31" fill="#22313a"><use href="#old" width="17" height="31"/></svg>
<svg style="left:290.3px;top:871.8px" width="17" height="31" fill="#22313a"><use href="#old" width="17" height="31"/></svg>
<svg style="left:78.5px;top:959.8px" width="11.5" height="29.9" fill="#e0713c"><use href="#boy" width="11.5" height="29.9"/></svg>
<svg style="left:94.2px;top:959.8px" width="11.5" height="29.9" fill="#e0713c"><use href="#boy" width="11.5" height="29.9"/></svg>
<svg style="left:109.9px;top:959.8px" width="11.5" height="29.9" fill="#e0713c"><use href="#boy" width="11.5" height="29.9"/></svg>
<svg style="left:76px;top:993.8px" width="17" height="31.3" fill="#22313a"><use href="#old" width="17" height="31.3"/></svg>
<svg style="left:274.7px;top:959.8px" width="11.5" height="29.6" fill="#e0713c"><use href="#boy" width="11.5" height="29.6"/></svg>
<svg style="left:289.7px;top:959.8px" width="11.5" height="29.6" fill="#e0713c"><use href="#boy" width="11.5" height="29.6"/></svg>
<svg style="left:305.4px;top:959.8px" width="11.5" height="29.6" fill="#e0713c"><use href="#boy" width="11.5" height="29.6"/></svg>
<svg width="787" height="1080" viewBox="0 0 787 1080" fill="#9b9b9b">
<rect x="604.8" y="1015.8" width="3.9" height="22.8"/><rect x="612.4" y="1015.8" width="3.9" height="22.8"/>
<rect x="599" y="1021.5" width="23" height="3.6"/><rect x="599" y="1029.7" width="23" height="3.6"/>
<path d="M586.4 1023.3L589.6 1021.7V1024.9Z"/><rect x="590.8" y="1021.9" width="5.2" height="2.8"/><rect x="597" y="1021.9" width="1.6" height="2.8"/>
<rect x="623.2" y="1030.1" width="5.2" height="2.8"/><rect x="629.4" y="1030.1" width="1.8" height="2.8"/><path d="M634.8 1031.5L631.8 1029.9V1033.1Z"/>
</svg>
<div class="logo" style="left:641.9px;top:1020.2px">FOGOCRUZADO</div>
<div style="position:absolute;left:640px;top:1029.4px;width:116px;height:.8px;background:#fff"></div>
</body>
</html>
